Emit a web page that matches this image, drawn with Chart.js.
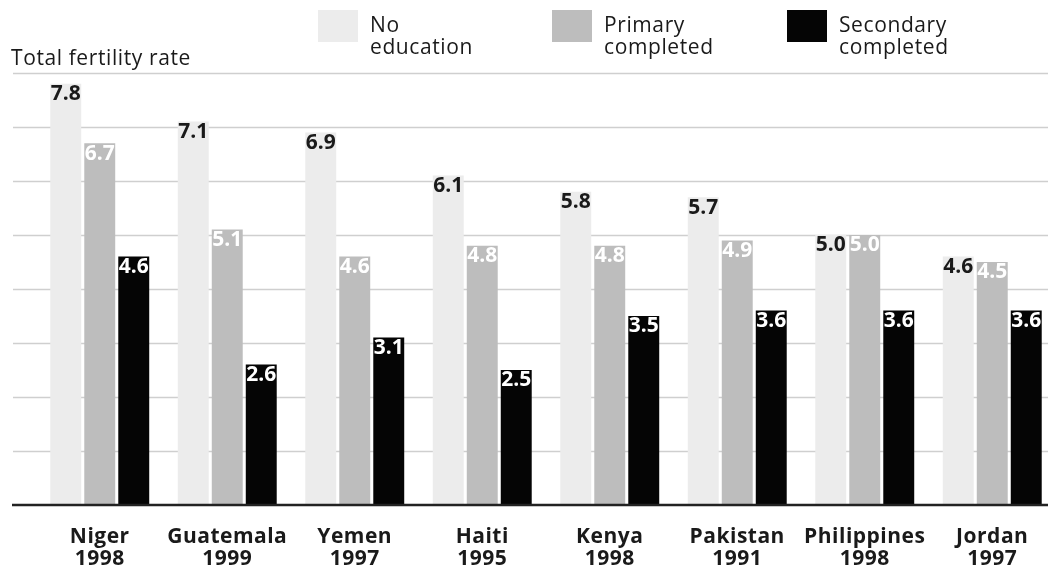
<!DOCTYPE html>
<html>
<head>
<meta charset="utf-8">
<title>Total fertility rate by education</title>
<script src="https://cdn.jsdelivr.net/npm/chart.js@4"></script>
<style>
  html, body { margin: 0; padding: 0; background: #fff; overflow: hidden; }
  #wrap { position: absolute; left: 0; top: 0; width: 1060px; height: 569px; }
</style>
</head>
<body>
<div id="wrap"><canvas id="tfrChart" width="1060" height="569"></canvas></div>
<script>
// Survey countries and years
const countries = ['Niger', 'Guatemala', 'Yemen', 'Haiti', 'Kenya', 'Pakistan', 'Philippines', 'Jordan'];
const surveyYears = ['1998', '1999', '1997', '1995', '1998', '1991', '1998', '1997'];

// Total fertility rate by mother's education
const noEducation = [7.8, 7.1, 6.9, 6.1, 5.8, 5.7, 5.0, 4.6];
const primaryCompleted = [6.7, 5.1, 4.6, 4.8, 4.8, 4.9, 5.0, 4.5];
const secondaryCompleted = [4.6, 2.6, 3.1, 2.5, 3.5, 3.6, 3.6, 3.6];

const seriesNames = [['No', 'education'], ['Primary', 'completed'], ['Secondary', 'completed']];
const gridTicks = [1, 2, 3, 4, 5, 6, 7, 8];

const FONT = '"Open Sans", "Noto Sans", sans-serif';
const INK = '#1a1a1a';

// horizontal rules behind the bars, plus the dark baseline
const gridPlugin = {
    id: 'gridRules',
    beforeDatasetsDraw(chart) {
        const ctx = chart.ctx;
        const y = chart.scales.y;
        ctx.save();
        ctx.strokeStyle = '#cfcfcf';
        ctx.lineWidth = 1.5;
        gridTicks.forEach(t => {
            const py = Math.round(y.getPixelForValue(t)) + 0.5;
            ctx.beginPath();
            ctx.moveTo(13, py);
            ctx.lineTo(chart.width, py);
            ctx.stroke();
        });
        ctx.restore();
    },
    afterDatasetsDraw(chart) {
        const ctx = chart.ctx;
        const py = chart.scales.y.getPixelForValue(0);
        ctx.save();
        ctx.strokeStyle = '#222';
        ctx.lineWidth = 2.5;
        ctx.beginPath();
        ctx.moveTo(12, py);
        ctx.lineTo(chart.width, py);
        ctx.stroke();
        ctx.restore();
    }
};

// value labels inside the top of each bar
const valueLabels = {
    id: 'valueLabels',
    afterDatasetsDraw(chart) {
        const ctx = chart.ctx;
        ctx.save();
        ctx.font = 'bold 21px ' + FONT;
        ctx.textAlign = 'center';
        ctx.textBaseline = 'top';
        chart.data.datasets.forEach((ds, i) => {
            const meta = chart.getDatasetMeta(i);
            ctx.fillStyle = i === 0 ? INK : '#ffffff';
            meta.data.forEach((bar, j) => {
                ctx.fillText(ds.data[j].toFixed(1), bar.x, bar.y);
            });
        });
        ctx.restore();
    }
};

// two-line category labels under the baseline
const categoryLabels = {
    id: 'categoryLabels',
    afterDraw(chart) {
        const ctx = chart.ctx;
        const x = chart.scales.x;
        ctx.save();
        ctx.font = 'bold 21px ' + FONT;
        ctx.letterSpacing = '0.5px';
        ctx.fillStyle = INK;
        ctx.textAlign = 'center';
        ctx.textBaseline = 'alphabetic';
        chart.data.labels.forEach((lbl, i) => {
            const px = x.getPixelForValue(i);
            ctx.fillText(lbl[0], px, 543);
            ctx.fillText(lbl[1], px, 565);
        });
        ctx.restore();
    }
};

// axis title and legend across the top
const headerPlugin = {
    id: 'header',
    afterDraw(chart) {
        const ctx = chart.ctx;
        ctx.save();
        ctx.font = '21px ' + FONT;
        ctx.letterSpacing = '0.6px';
        ctx.fillStyle = INK;
        ctx.textBaseline = 'alphabetic';
        ctx.fillText('Total fertility rate', 11, 65);

        const swatchX = [318, 552, 787];
        chart.data.datasets.forEach((ds, i) => {
            ctx.fillStyle = ds.backgroundColor;
            ctx.fillRect(swatchX[i], 10, 40, 32);
            ctx.fillStyle = INK;
            ctx.fillText(seriesNames[i][0], swatchX[i] + 52, 32);
            ctx.fillText(seriesNames[i][1], swatchX[i] + 52, 54);
        });
        ctx.restore();
    }
};

new Chart(document.getElementById('tfrChart'), {
    type: 'bar',
    data: {
        labels: countries.map((c, i) => [c, surveyYears[i]]),
        datasets: [
            { label: 'No education', data: noEducation, backgroundColor: '#ececec' },
            { label: 'Primary completed', data: primaryCompleted, backgroundColor: '#bdbdbd' },
            { label: 'Secondary completed', data: secondaryCompleted, backgroundColor: '#050505' }
        ]
    },
    options: {
        responsive: false,
        animation: false,
        events: [],
        categoryPercentage: 0.8,
        barPercentage: 0.91,
        layout: { padding: { left: 36, right: 4, top: 73, bottom: 64 } },
        plugins: { legend: { display: false }, tooltip: { enabled: false } },
        scales: {
            x: { display: false },
            y: { display: false, min: 0, max: 8 }
        }
    },
    plugins: [gridPlugin, valueLabels, categoryLabels, headerPlugin]
});
</script>
</body>
</html>
